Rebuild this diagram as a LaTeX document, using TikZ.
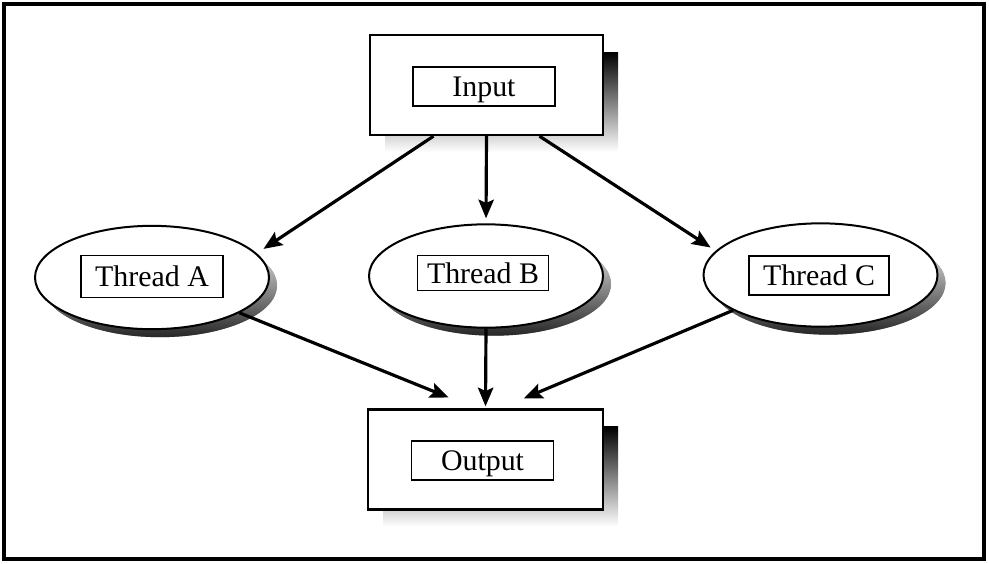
\documentclass[tikz,border=0pt]{standalone}
\usepackage{fontspec}
\setmainfont{Liberation Serif}
\usetikzlibrary{shapes.geometric, arrows.meta, shadows}
\tikzset{
		block nodes/.style={
			rectangle,
			draw=black,
			line width=0.7mm,
			fill=white,
			minimum width=69.9mm,
			minimum height=30mm,
			inner sep=0pt,
			drop shadow={shadow xshift=4.5mm, shadow yshift=-5.1mm,
				top color=black, middle color=black!75, bottom color=white, opacity=1}
		},
		thread nodes/.style={
			ellipse,
			draw=black,
			line width=0.6mm,
			fill=white,
			minimum width=70.2mm,
			minimum height=31mm,
			inner sep=0pt,
			drop shadow={shadow xshift=2.4mm, shadow yshift=-2.4mm,
				top color=white, middle color=white, bottom color=black!85, opacity=1}
		},
		tag nodes/.style={
			rectangle,
			draw=black,
			line width=0.45mm,
			minimum width=42.6mm,
			minimum height=11.7mm,
			text height=6mm,
			text depth=0mm,
			inner sep=0pt,
			font=\fontsize{25.5}{30}\selectfont
		},
		flow/.style={
			line width=0.95mm,
			-{Stealth[length=5.6mm, width=4.6mm, inset=1mm]}
		}
	}
\begin{document}
\begin{tikzpicture}[x=0.3mm, y=-0.3mm]
		\useasboundingbox (0,0) rectangle (989,563);
		\draw[line width=1.2mm] (4,4) rectangle (984,559);
		% boxes and threads
		\node[block nodes] (in) at (486.5,85) {};
		\node[tag nodes] (in-tag) at (484,86.5) {Input};
		\node[thread nodes] (ta) at (152,277.5) {};
		\node[tag nodes, minimum height=12.6mm] (ta-tag) at (152,276.5) {Thread A};
		\node[thread nodes] (tb) at (486,276) {};
		\node[tag nodes, minimum width=39.3mm, minimum height=10.5mm] (tb-tag) at (483,273) {Thread B};
		\node[thread nodes] (tc) at (820.5,275) {};
		\node[tag nodes, minimum width=42mm] (tc-tag) at (819,275.5) {Thread C};
		\node[block nodes, minimum width=70.5mm] (out) at (485.5,459.5) {};
		\node[tag nodes] (out-tag) at (482.5,460.5) {Output};
		%arrows:
		\draw[flow, shorten >=2.4mm] (in.224) -- (ta.13);
		\draw[flow, shorten >=1.5mm] (in.south) -- (tb.north);
		\draw[flow, shorten >=1.8mm] (in.316) -- (tc.167);
		\draw[flow, shorten >=8.7mm] (ta.338) -- (out.101);
		\draw[flow, shorten >=0.6mm] (tb.south) -- (out.north);
		\draw[flow, shorten >=7.7mm] (tc.202) -- (out.74);

	\end{tikzpicture}
\end{document}
